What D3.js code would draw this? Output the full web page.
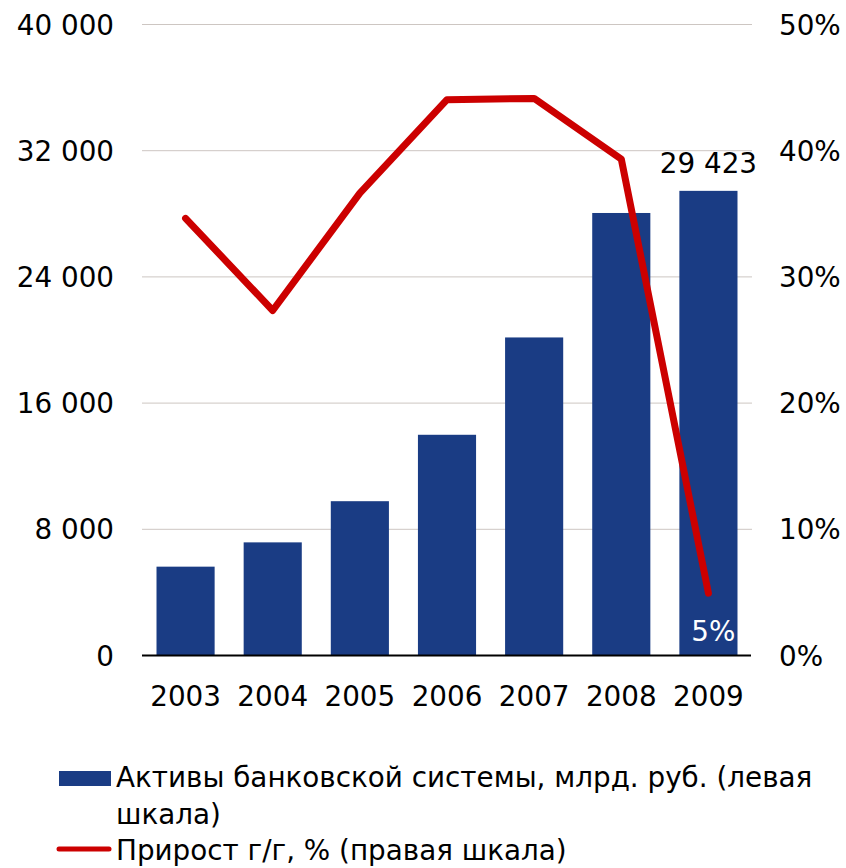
<!DOCTYPE html>
<html>
<head>
<meta charset="utf-8">
<script src="https://cdn.jsdelivr.net/npm/d3@7"></script>
<style>
  html, body { margin: 0; padding: 0; background: #fff; }
  svg { display: block; font-family: "DejaVu Sans", Verdana, sans-serif; }
</style>
</head>
<body>
<svg id="chart" width="846" height="868"></svg>
<script>
// Banking-system assets (bn RUB, left axis) and y/y growth (%, right axis)
const years = ["2003", "2004", "2005", "2006", "2007", "2008", "2009"];
const assets = [5600, 7140, 9750, 13960, 20130, 28020, 29423];
const growth = [34.6, 27.3, 36.6, 44.0, 44.1, 39.3, 4.9];
const leftTicks = [0, 8000, 16000, 24000, 32000, 40000];
const rightTicks = [0, 10, 20, 30, 40, 50];
const legendLabels = [
  ["Активы банковской системы, млрд. руб. (левая", "шкала)"],
  ["Прирост г/г, % (правая шкала)"]
];

const barColor = "#1a3c84";
const lineColor = "#cc0000";
const fontSize = 27.8;
const fontFamily = "DejaVu Sans, Verdana, sans-serif";

const svg = d3.select("#chart");
const plot = { left: 142, right: 752, top: 24, bottom: 655 };

const x = d3.scaleBand().domain(years).range([plot.left, plot.right]).paddingInner(0.333).paddingOuter(0.1665);
const yL = d3.scaleLinear().domain([0, 40000]).range([plot.bottom, plot.top]);
const yR = d3.scaleLinear().domain([0, 50]).range([plot.bottom, plot.top]);

const fmt = v => d3.format(",")(v).replace(/,/g, " ");

// gridlines
svg.append("g").selectAll("line").data(leftTicks.filter(d => d > 0)).join("line")
  .attr("x1", plot.left).attr("x2", plot.right)
  .attr("y1", d => yL(d) + 0.5).attr("y2", d => yL(d) + 0.5)
  .attr("stroke", "#cdc6c2").attr("stroke-width", 1);

// left axis labels
const axL = svg.append("g").attr("transform", `translate(${plot.left - 28},0)`)
  .call(d3.axisLeft(yL).tickValues(leftTicks).tickFormat(fmt).tickSize(0).tickPadding(0));
axL.select(".domain").remove();
axL.selectAll("text").attr("font-size", fontSize).attr("font-family", fontFamily)
  .attr("fill", "#000").attr("dy", "0.36em");

// right axis labels
const axR = svg.append("g").attr("transform", `translate(${plot.right + 27},0)`)
  .call(d3.axisRight(yR).tickValues(rightTicks).tickFormat(d => d + "%").tickSize(0).tickPadding(0));
axR.select(".domain").remove();
axR.selectAll("text").attr("font-size", fontSize).attr("font-family", fontFamily)
  .attr("fill", "#000").attr("dy", "0.36em");

// bars
svg.append("g").selectAll("rect").data(years).join("rect")
  .attr("x", d => x(d)).attr("width", x.bandwidth())
  .attr("y", (d, i) => yL(assets[i])).attr("height", (d, i) => yL(0) - yL(assets[i]))
  .attr("fill", barColor);

// baseline
svg.append("line").attr("x1", plot.left).attr("x2", plot.right - 1)
  .attr("y1", plot.bottom + 0.5).attr("y2", plot.bottom + 0.5)
  .attr("stroke", "#000").attr("stroke-width", 2.2);

// category axis
const axX = svg.append("g").attr("transform", `translate(0,${plot.bottom + 31})`)
  .call(d3.axisBottom(x).tickSize(0).tickPadding(0));
axX.select(".domain").remove();
axX.selectAll("text").attr("font-size", fontSize).attr("font-family", fontFamily)
  .attr("fill", "#000").attr("dy", "0.71em");

// growth line
const line = d3.line().x((d, i) => x(years[i]) + x.bandwidth() / 2).y(d => yR(d));
svg.append("path").datum(growth).attr("d", line)
  .attr("fill", "none").attr("stroke", lineColor).attr("stroke-width", 7)
  .attr("stroke-linejoin", "round").attr("stroke-linecap", "round");

// value labels for the last year
const last = years.length - 1;
svg.append("text")
  .attr("x", x(years[last]) + x.bandwidth() / 2).attr("y", yL(assets[last]) - 18)
  .attr("text-anchor", "middle").attr("font-size", fontSize).attr("font-family", fontFamily).attr("fill", "#000")
  .text(fmt(assets[last]));
svg.append("text")
  .attr("x", x(years[last]) + x.bandwidth() / 2 + 5).attr("y", plot.bottom - 14)
  .attr("text-anchor", "middle").attr("font-size", fontSize).attr("font-family", fontFamily).attr("fill", "#fff")
  .text(Math.round(growth[last]) + "%");

// legend
const lg = svg.append("g");
lg.append("rect").attr("x", 59).attr("y", 771).attr("width", 52).attr("height", 15).attr("fill", barColor);
lg.append("line").attr("x1", 59).attr("x2", 109).attr("y1", 849).attr("y2", 849)
  .attr("stroke", lineColor).attr("stroke-width", 5).attr("stroke-linecap", "round");
const lines = [legendLabels[0][0], legendLabels[0][1], legendLabels[1][0]];
lg.selectAll("text").data(lines).join("text")
  .attr("x", 116).attr("y", (d, i) => 787 + i * 36.5)
  .attr("font-size", fontSize).attr("font-family", fontFamily).attr("fill", "#000")
  .text(d => d);
</script>
</body>
</html>
